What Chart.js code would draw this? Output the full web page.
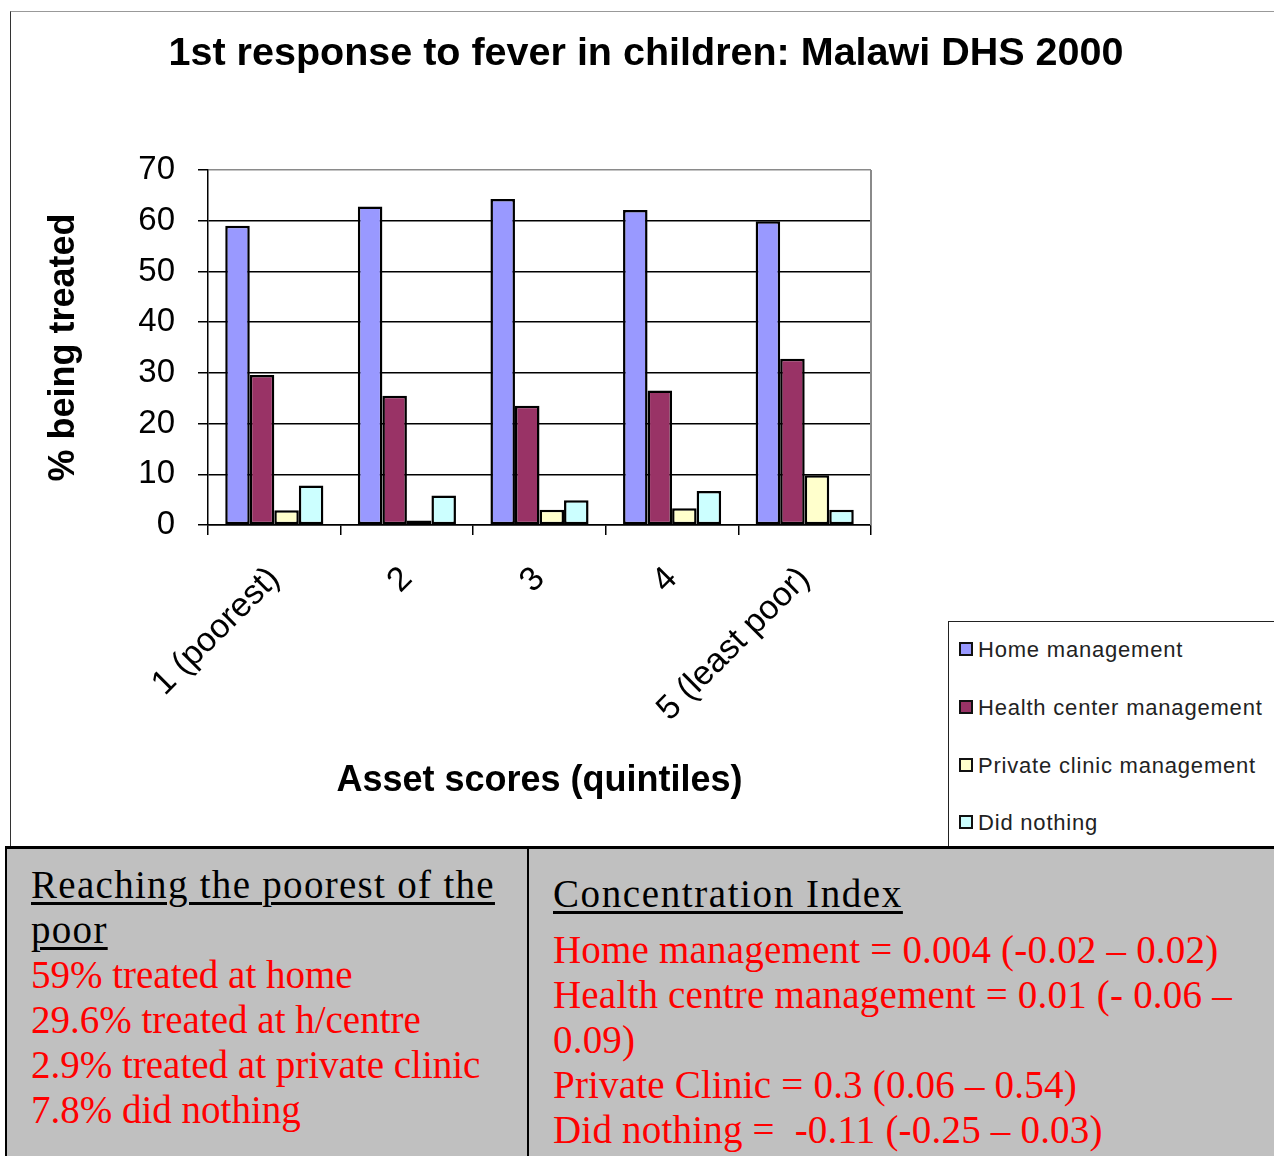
<!DOCTYPE html>
<html>
<head>
<meta charset="utf-8">
<title>1st response to fever in children: Malawi DHS 2000</title>
<script src="https://cdn.jsdelivr.net/npm/chart.js@4.4.1/dist/chart.umd.min.js"></script>
<style>
    html, body {
        margin: 0;
        padding: 0;
        width: 1274px;
        height: 1156px;
        overflow: hidden;
        background: #fff;
        position: relative;
        font-family: "Liberation Sans", Arial, sans-serif;
    }
    #frame {
        position: absolute;
        left: 10px;
        top: 11px;
        width: 1300px;
        height: 837px;
        border-top: 1px solid #999;
        border-left: 1px solid #333;
    }
    #chartWrap {
        position: absolute;
        left: 0;
        top: 0;
        width: 1274px;
        height: 848px;
    }
    #legend {
        position: absolute;
        left: 948px;
        top: 621px;
        width: 400px;
        height: 226px;
        border: 1px solid #222;
        background: #fff;
    }
    .legend-item {
        position: absolute;
        left: 10px;
        height: 26px;
        line-height: 26px;
        font-size: 22px;
        letter-spacing: 0.8px;
        color: #222;
        white-space: nowrap;
    }
    .legend-item .swatch {
        display: inline-block;
        width: 10px;
        height: 10px;
        border: 2px solid #111;
        margin-right: 5px;
        vertical-align: 1px;
    }
    #notes {
        position: absolute;
        left: 5px;
        top: 846px;
        width: 1300px;
        height: 320px;
        background: #C0C0C0;
        border-top: 3px solid #000;
        border-left: 2px solid #000;
        font-family: "Liberation Serif", "Times New Roman", serif;
        font-size: 39px;
        line-height: 45px;
    }
    .panel {
        position: absolute;
        top: 0;
        bottom: 0;
        white-space: nowrap;
    }
    #leftPanel {
        left: 0;
        width: 520px;
        border-right: 2px solid #000;
    }
    #rightPanel {
        left: 522px;
        right: 0;
    }
    .heading {
        color: #000;
        text-decoration: underline;
        text-decoration-thickness: 3px;
        text-underline-offset: 4px;
        letter-spacing: 1.3px;
    }
    .red {
        color: #FF0000;
    }
    #rightPanel .red {
        letter-spacing: 0.2px;
    }
</style>
</head>
<body>
<div id="frame"></div>
<div id="chartWrap"><canvas id="chart" width="1274" height="848"></canvas></div>
<div id="legend"></div>
<div id="notes">
    <div class="panel" id="leftPanel">
        <div style="position:absolute; left:24px; top:13px;">
            <span class="heading">Reaching the poorest of the</span><br>
            <span class="heading">poor</span><br>
            <span class="red">59% treated at home</span><br>
            <span class="red">29.6% treated at h/centre</span><br>
            <span class="red">2.9% treated at private clinic</span><br>
            <span class="red">7.8% did nothing</span>
        </div>
    </div>
    <div class="panel" id="rightPanel">
        <div style="position:absolute; left:24px; top:22px;">
            <div class="heading" style="margin-bottom:11px; letter-spacing:1.6px;">Concentration Index</div>
            <span class="red">Home management = 0.004 (-0.02 – 0.02)</span><br>
            <span class="red">Health centre management = 0.01 (- 0.06 –</span><br>
            <span class="red">0.09)</span><br>
            <span class="red">Private Clinic = 0.3 (0.06 – 0.54)</span><br>
            <span class="red">Did nothing = &nbsp;-0.11 (-0.25 – 0.03)</span>
        </div>
    </div>
</div>

<script>
// Data
const quintiles = ['1 (poorest)', '2', '3', '4', '5 (least poor)'];
const homeMgmt = [59.0, 62.8, 64.3, 62.1, 59.9];
const healthCentreMgmt = [29.6, 25.5, 23.5, 26.5, 32.8];
const privateClinicMgmt = [2.9, 0.9, 3.0, 3.3, 9.8];
const didNothing = [7.8, 5.8, 4.9, 6.7, 3.0];

const seriesNames = ['Home management', 'Health center management', 'Private clinic management', 'Did nothing'];
const seriesColors = ['#9999FF', '#993366', '#FFFFCC', '#CCFFFF'];
const yTicks = [0, 10, 20, 30, 40, 50, 60, 70];

Chart.defaults.color = '#000';
Chart.defaults.font.family = '"Liberation Sans", Arial, sans-serif';

// gray border on the right of the plot area
const plotBorder = {
    id: 'plotBorder',
    beforeDatasetsDraw(chart) {
        const a = chart.chartArea;
        const c = chart.ctx;
        c.save();
        c.strokeStyle = '#8a8a8a';
        c.lineWidth = 2;
        c.beginPath();
        c.moveTo(a.right, a.top);
        c.lineTo(a.right, a.bottom);
        c.stroke();
        c.restore();
    }
};

const allSeries = [homeMgmt, healthCentreMgmt, privateClinicMgmt, didNothing];

const chart = new Chart(document.getElementById('chart'), {
    type: 'bar',
    data: {
        labels: quintiles,
        datasets: allSeries.map((vals, i) => ({
            label: seriesNames[i],
            data: vals,
            backgroundColor: seriesColors[i],
            borderColor: '#000',
            borderWidth: 2.5,
            borderSkipped: false,
            categoryPercentage: 0.74,
            barPercentage: 1.0
        }))
    },
    options: {
        responsive: false,
        devicePixelRatio: 1,
        animation: false,
        layout: {
            padding: { left: 18, right: 0, top: 10, bottom: 20 }
        },
        plugins: {
            legend: { display: false },
            tooltip: { enabled: false },
            title: {
                display: true,
                text: '1st response to fever in children: Malawi DHS 2000',
                font: { size: 39.5, weight: 'bold' },
                padding: { top: 20.3, bottom: 92.3 }
            }
        },
        scales: {
            x: {
                ticks: {
                    minRotation: 45,
                    maxRotation: 45,
                    autoSkip: false,
                    padding: 24,
                    font: { size: 34 }
                },
                grid: {
                    drawOnChartArea: false,
                    tickLength: 10,
                    color: '#000',
                    lineWidth: 1.5
                },
                border: { color: '#000', width: 1.5 },
                title: {
                    display: true,
                    text: 'Asset scores (quintiles)',
                    font: { size: 36, weight: 'bold' },
                    padding: { top: 0, bottom: 25.4 }
                },
                afterFit(scale) { scale.height = 303; }
            },
            y: {
                min: 0,
                max: 70,
                afterBuildTicks(scale) { scale.ticks = yTicks.map(v => ({ value: v })); },
                ticks: {
                    padding: 23,
                    font: { size: 33 }
                },
                grid: {
                    tickLength: 10,
                    lineWidth: 1.5,
                    color: ctx => ctx.tick && ctx.tick.value === 70 ? '#8a8a8a' : '#000',
                    tickColor: '#000'
                },
                border: { color: '#000', width: 1.5 },
                title: {
                    display: true,
                    text: '% being treated',
                    font: { size: 36, weight: 'bold' },
                    padding: { top: 24.4, bottom: 0 }
                },
                afterFit(scale) { scale.width = 190; }
            },
            // empty axis that only reserves the space on the right of the plot
            spacer: {
                type: 'linear',
                position: 'right',
                min: 0,
                max: 1,
                ticks: { display: false },
                grid: { display: false },
                border: { display: false },
                afterFit(scale) { scale.width = 403; }
            }
        }
    },
    plugins: [plotBorder]
});

// HTML legend built from the series names and colours
const legendEl = document.getElementById('legend');
const legendTops = [15, 73, 131, 188];
seriesNames.forEach((name, i) => {
    const item = document.createElement('div');
    item.className = 'legend-item';
    item.style.top = legendTops[i] + 'px';
    item.innerHTML = '<span class="swatch" style="background:' + seriesColors[i] + '"></span>' + name;
    legendEl.appendChild(item);
});
</script>
</body>
</html>
